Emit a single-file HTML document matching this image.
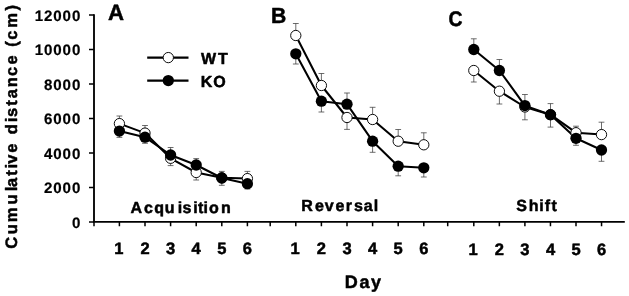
<!DOCTYPE html>
<html><head><meta charset="utf-8"><title>Cumulative distance</title>
<style>html,body{margin:0;padding:0;background:#fff}svg{display:block}text{font-family:"Liberation Sans",Arial,sans-serif;font-weight:bold;fill:#000;stroke:#000;stroke-width:0.5px;stroke-linejoin:round;text-rendering:geometricPrecision}text.t{stroke-width:0.2px}</style></head><body>
<svg width="629" height="296" viewBox="0 0 629 296">
<rect width="629" height="296" fill="#fff"/>
<g stroke="#000" fill="none">
<path d="M94.0 14.2V222.0" stroke-width="1.85"/>
<path d="M93.1 221.9H624.8" stroke-width="1.9"/>
<path d="M89 222.00H94.0M89 187.50H94.0M89 153.00H94.0M89 118.50H94.0M89 84.00H94.0M89 49.50H94.0M89 15.00H94.0" stroke-width="1.5"/>
<path d="M94.00 222.0V226.3M119.40 222.0V226.3M145.00 222.0V226.3M170.60 222.0V226.3M196.20 222.0V226.3M221.80 222.0V226.3M247.40 222.0V226.3M270.20 222.0V226.3M295.80 222.0V226.3M321.40 222.0V226.3M347.00 222.0V226.3M372.60 222.0V226.3M398.20 222.0V226.3M423.80 222.0V226.3M447.70 222.0V226.3M473.80 222.0V226.3M499.35 222.0V226.3M524.90 222.0V226.3M550.45 222.0V226.3M576.00 222.0V226.3M601.55 222.0V226.3" stroke-width="1.5"/>
</g>
<path d="M119.4 123.6V116M116.5 116H122.30000000000001M119.4 131.1V137.4M116.5 137.4H122.30000000000001M145.0 133.1V125.5M142.1 125.5H147.9M145.0 137.2V143.3M142.1 143.3H147.9M170.6 155.0V147.5M167.7 147.5H173.5M170.6 158.3V165.6M167.7 165.6H173.5M196.2 165.0V158.6M193.29999999999998 158.6H199.1M196.2 172.5V180M193.29999999999998 180H199.1M221.8 177.8V171.4M218.9 171.4H224.70000000000002M221.8 178.0V185.3M218.9 185.3H224.70000000000002M247.4 178.6V171.4M244.5 171.4H250.3M247.4 183.7V189M244.5 189H250.3M295.8 35.5V23.5M292.90000000000003 23.5H298.7M295.8 53.8V64M292.90000000000003 64H298.7M321.4 85.5V73.5M318.5 73.5H324.29999999999995M321.4 101.2V112M318.5 112H324.29999999999995M347.0 104.2V93M344.1 93H349.9M347.0 117.5V129.4M344.1 129.4H349.9M372.6 119.5V107.3M369.70000000000005 107.3H375.5M372.6 141.2V152.3M369.70000000000005 152.3H375.5M398.2 141.2V129.5M395.3 129.5H401.09999999999997M398.2 166.2V175.8M395.3 175.8H401.09999999999997M423.8 144.8V132.8M420.90000000000003 132.8H426.7M423.8 167.8V177M420.90000000000003 177H426.7M473.8 49.5V38.8M470.90000000000003 38.8H476.7M473.8 70.5V82M470.90000000000003 82H476.7M499.4 70.5V59.5M496.5 59.5H502.29999999999995M499.4 91.2V104M496.5 104H502.29999999999995M524.9 105.6V94.5M522.0 94.5H527.8M524.9 107.0V119.8M522.0 119.8H527.8M550.5 114.7V103.6M547.6 103.6H553.4M550.5 114.7V127.1M547.6 127.1H553.4M576.0 132.7V126.2M573.1 126.2H578.9M576.0 138.3V145.3M573.1 145.3H578.9M601.5 134.6V122.2M598.6 122.2H604.4M601.5 150.0V161.3M598.6 161.3H604.4" stroke="#3c3c3c" stroke-width="0.75" fill="none"/>
<g stroke="#000" stroke-width="2.05" fill="none" stroke-linejoin="round">
<polyline points="119.4,123.6 145.0,133.1 170.6,158.3 196.2,172.5 221.8,177.8 247.4,178.6"/>
<polyline points="119.4,131.1 145.0,137.2 170.6,155.0 196.2,165.0 221.8,178.0 247.4,183.7"/>
<polyline points="295.8,35.5 321.4,85.5 347.0,117.5 372.6,119.5 398.2,141.2 423.8,144.8"/>
<polyline points="295.8,53.8 321.4,101.2 347.0,104.2 372.6,141.2 398.2,166.2 423.8,167.8"/>
<polyline points="473.8,70.5 499.4,91.2 524.9,107.0 550.5,114.7 576.0,132.7 601.5,134.6"/>
<polyline points="473.8,49.5 499.4,70.5 524.9,105.6 550.5,114.7 576.0,138.3 601.5,150.0"/>
<path d="M147.2 57.6H188.5M147.2 80.6H188.5"/>
</g>
<circle cx="119.4" cy="123.6" r="5.15" fill="#fff" stroke="#000" stroke-width="0.95"/><circle cx="145.0" cy="133.1" r="5.15" fill="#fff" stroke="#000" stroke-width="0.95"/><circle cx="170.6" cy="158.3" r="5.15" fill="#fff" stroke="#000" stroke-width="0.95"/><circle cx="196.2" cy="172.5" r="5.15" fill="#fff" stroke="#000" stroke-width="0.95"/><circle cx="221.8" cy="177.8" r="5.15" fill="#fff" stroke="#000" stroke-width="0.95"/><circle cx="247.4" cy="178.6" r="5.15" fill="#fff" stroke="#000" stroke-width="0.95"/>
<circle cx="119.4" cy="131.1" r="5.65" fill="#000"/><circle cx="145.0" cy="137.2" r="5.65" fill="#000"/><circle cx="170.6" cy="155.0" r="5.65" fill="#000"/><circle cx="196.2" cy="165.0" r="5.65" fill="#000"/><circle cx="221.8" cy="178.0" r="5.65" fill="#000"/><circle cx="247.4" cy="183.7" r="5.65" fill="#000"/>
<circle cx="295.8" cy="35.5" r="5.15" fill="#fff" stroke="#000" stroke-width="0.95"/><circle cx="321.4" cy="85.5" r="5.15" fill="#fff" stroke="#000" stroke-width="0.95"/><circle cx="347.0" cy="117.5" r="5.15" fill="#fff" stroke="#000" stroke-width="0.95"/><circle cx="372.6" cy="119.5" r="5.15" fill="#fff" stroke="#000" stroke-width="0.95"/><circle cx="398.2" cy="141.2" r="5.15" fill="#fff" stroke="#000" stroke-width="0.95"/><circle cx="423.8" cy="144.8" r="5.15" fill="#fff" stroke="#000" stroke-width="0.95"/>
<circle cx="295.8" cy="53.8" r="5.65" fill="#000"/><circle cx="321.4" cy="101.2" r="5.65" fill="#000"/><circle cx="347.0" cy="104.2" r="5.65" fill="#000"/><circle cx="372.6" cy="141.2" r="5.65" fill="#000"/><circle cx="398.2" cy="166.2" r="5.65" fill="#000"/><circle cx="423.8" cy="167.8" r="5.65" fill="#000"/>
<circle cx="473.8" cy="70.5" r="5.15" fill="#fff" stroke="#000" stroke-width="0.95"/><circle cx="499.4" cy="91.2" r="5.15" fill="#fff" stroke="#000" stroke-width="0.95"/><circle cx="524.9" cy="107.0" r="5.15" fill="#fff" stroke="#000" stroke-width="0.95"/><circle cx="550.5" cy="114.7" r="5.15" fill="#fff" stroke="#000" stroke-width="0.95"/><circle cx="576.0" cy="132.7" r="5.15" fill="#fff" stroke="#000" stroke-width="0.95"/><circle cx="601.5" cy="134.6" r="5.15" fill="#fff" stroke="#000" stroke-width="0.95"/>
<circle cx="473.8" cy="49.5" r="5.65" fill="#000"/><circle cx="499.4" cy="70.5" r="5.65" fill="#000"/><circle cx="524.9" cy="105.6" r="5.65" fill="#000"/><circle cx="550.5" cy="114.7" r="5.65" fill="#000"/><circle cx="576.0" cy="138.3" r="5.65" fill="#000"/><circle cx="601.5" cy="150.0" r="5.65" fill="#000"/>
<circle cx="168.3" cy="57.6" r="5.15" fill="#fff" stroke="#000" stroke-width="0.95"/>
<circle cx="168.3" cy="80.6" r="5.65" fill="#000"/>
<text x="81.20" y="228.45" font-size="15.1" text-anchor="end" letter-spacing="0.9" class="t">0</text>
<text x="81.20" y="193.45" font-size="15.1" text-anchor="end" letter-spacing="0.9" class="t">2000</text>
<text x="81.20" y="159.45" font-size="15.1" text-anchor="end" letter-spacing="0.9" class="t">4000</text>
<text x="81.20" y="124.40" font-size="15.1" text-anchor="end" letter-spacing="0.9" class="t">6000</text>
<text x="81.20" y="90.40" font-size="15.1" text-anchor="end" letter-spacing="0.9" class="t">8000</text>
<text x="81.20" y="55.40" font-size="15.1" text-anchor="end" letter-spacing="0.9" class="t">10000</text>
<text x="81.20" y="21.40" font-size="15.1" text-anchor="end" letter-spacing="0.9" class="t">12000</text>
<text x="118.8" y="254.1" font-size="16.5" text-anchor="middle">1</text>
<text x="145.0" y="254.1" font-size="16.5" text-anchor="middle">2</text>
<text x="170.6" y="254.1" font-size="16.5" text-anchor="middle">3</text>
<text x="196.2" y="254.1" font-size="16.5" text-anchor="middle">4</text>
<text x="221.8" y="254.1" font-size="16.5" text-anchor="middle">5</text>
<text x="247.4" y="254.1" font-size="16.5" text-anchor="middle">6</text>
<text x="295.2" y="254.1" font-size="16.5" text-anchor="middle">1</text>
<text x="321.4" y="254.1" font-size="16.5" text-anchor="middle">2</text>
<text x="347.0" y="254.1" font-size="16.5" text-anchor="middle">3</text>
<text x="372.6" y="254.1" font-size="16.5" text-anchor="middle">4</text>
<text x="398.2" y="254.1" font-size="16.5" text-anchor="middle">5</text>
<text x="423.8" y="254.1" font-size="16.5" text-anchor="middle">6</text>
<text x="473.2" y="255.2" font-size="16.5" text-anchor="middle">1</text>
<text x="499.4" y="255.2" font-size="16.5" text-anchor="middle">2</text>
<text x="524.9" y="255.2" font-size="16.5" text-anchor="middle">3</text>
<text x="550.5" y="255.2" font-size="16.5" text-anchor="middle">4</text>
<text x="576.0" y="255.2" font-size="16.5" text-anchor="middle">5</text>
<text x="601.5" y="255.2" font-size="16.5" text-anchor="middle">6</text>
<text x="108.1" y="19.7" font-size="22.2">A</text>
<text transform="translate(271.0 22.65) scale(0.97 1)" font-size="21.8">B</text>
<text transform="translate(448.4 25.65) scale(0.92 1)" font-size="21">C</text>
<text x="201.0" y="64.0" font-size="16" letter-spacing="1.9">WT</text>
<text x="200.7" y="86.6" font-size="16" letter-spacing="0.9">KO</text>
<text x="130.2" y="213.4" font-size="16" letter-spacing="1.33" dx="0.2 0.65 0.05 -0.55 1.95 -1.15 0.5 -0.95 -1.15 -0.25 0.85">Acquisition</text>
<text x="301.4" y="211.1" font-size="16" letter-spacing="1.4" dx="-0.1 0.85 -0.65 0.35 0.05 0.6 -0.6 -0.2">Reversal</text>
<text x="515.8" y="211.1" font-size="16" letter-spacing="1.35" dx="0.5 0.45 -0.6 -0.25 -0.1">Shift</text>
<text x="344.8" y="287.5" font-size="18" letter-spacing="1.6">Day</text>
<text transform="translate(16.5 248.8) rotate(-90)" font-size="16.5" letter-spacing="1.94" dx="0 0.7 0.0 1.0 1.3 -2.35 0.15 -0.2 -1.7 -0.2 -0.1 0.95 0.0 -1.25 0.1 0.0 0.05 -0.75 0.35 -0.05 -0.05 -0.4 1.05 0.45">Cumulative distance (cm)</text>
</svg></body></html>
